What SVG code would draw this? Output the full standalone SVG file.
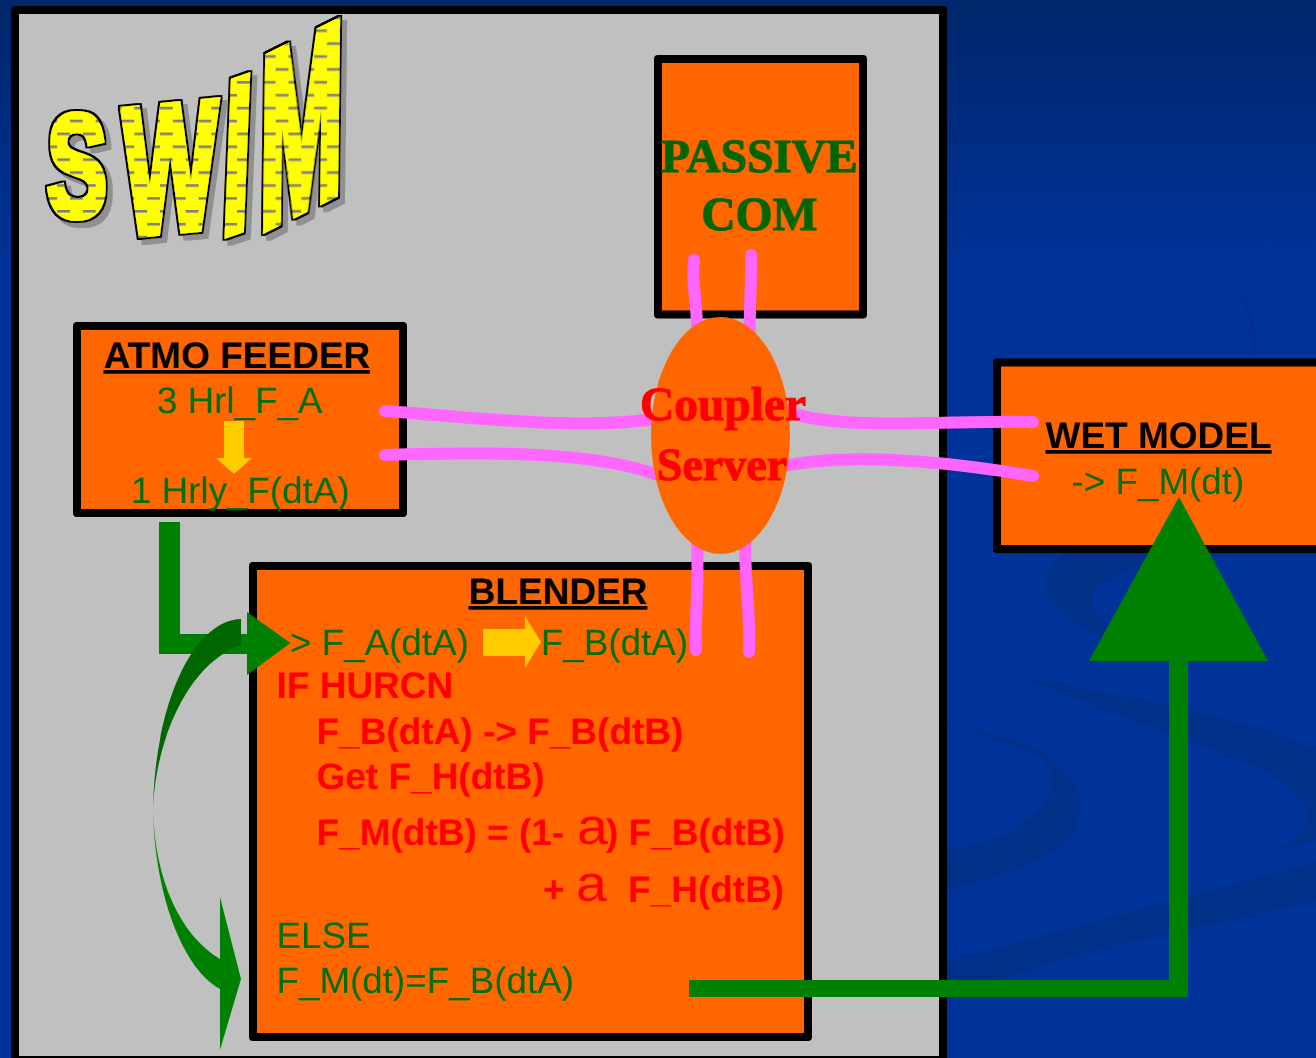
<svg xmlns="http://www.w3.org/2000/svg" width="1316" height="1058" viewBox="0 0 1316 1058">
<style>
text{text-rendering:geometricPrecision}
.box{fill:#ff6600;stroke:#000;stroke-width:8;stroke-linejoin:round}
.t{font-family:"Liberation Sans",Arial,sans-serif;font-size:36.800px;fill:#006f00}
.r{font-family:"Liberation Sans",Arial,sans-serif;font-size:37px;font-weight:bold;fill:#ff0000}
.h{font-family:"Liberation Sans",Arial,sans-serif;font-size:37px;font-weight:bold;fill:#000;text-decoration:underline}
.s{font-family:"Liberation Serif","Times New Roman",serif;font-size:47.500px;font-weight:bold;text-anchor:middle;stroke-width:1}
.pink{fill:none;stroke:#ff66ff;stroke-width:12;stroke-linecap:round}
.alpha{font-family:"Liberation Sans",Arial,sans-serif;font-size:37px;fill:#ff0000}
.w{font-family:"Liberation Sans",Arial,sans-serif;font-size:100px;font-weight:bold;stroke-width:5;stroke-linejoin:miter;vector-effect:non-scaling-stroke}
</style>
<defs>
<linearGradient id="bg" x1="0" y1="0" x2="0" y2="1"><stop offset="0" stop-color="#00266b"/><stop offset="0.25" stop-color="#003399"/><stop offset="1" stop-color="#003399"/></linearGradient>
<pattern id="dash" width="25.7" height="25.8" patternUnits="userSpaceOnUse"><rect width="25.7" height="25.8" fill="#ffff00"/><rect x="0" y="0" width="12.85" height="2.6" fill="#808080"/><rect x="12.85" y="12.9" width="12.85" height="2.6" fill="#808080"/></pattern>
<pattern id="pS" href="#dash" patternTransform="matrix(1.1111 0 0 .68966 -52.22 -148.97) translate(18.6 16.5)"/>
<pattern id="pW" href="#dash" patternTransform="matrix(1 .05556 0 .55556 -123 -137.39) translate(18.6 16.5)"/>
<pattern id="pI" href="#dash" patternTransform="matrix(1.01423 .16359 .04066 .46739 -233.2 -145.91) translate(18.6 16.5)"/>
<pattern id="pM" href="#dash" patternTransform="matrix(1.00619 .20619 .01237 .41237 -263.45 -148.25) translate(18.6 16.5)"/>
<filter id="sh" filterUnits="userSpaceOnUse" x="20" y="0" width="350" height="270">
<feMorphology in="SourceAlpha" operator="dilate" radius="2" result="d"/>
<feFlood flood-color="#000"/><feComposite in2="d" operator="in" result="o"/>
<feMerge result="m"><feMergeNode in="o"/><feMergeNode in="SourceGraphic"/></feMerge>
<feDropShadow in="m" dx="5" dy="5" stdDeviation="0.6" flood-color="#808080" flood-opacity="0.75"/>
</filter>
</defs>
<rect width="1316" height="1058" fill="url(#bg)"/>
<g id="swirls" fill="#003088">
<path d="M1065 553C1050 565 1043 578 1046 587C1050 607 1075 625 1125 650L1140 640C1115 630 1092 618 1091 600C1092 585 1120 572 1150 563L1170 553Z"/>
<path d="M1020 678C1120 695 1230 715 1316 749V840C1300 843 1285 848 1267 855C1290 845 1310 830 1307 813C1300 785 1260 765 1173 735C1120 715 1070 695 1020 678Z"/>
<path d="M947 722C990 735 1040 745 1053 762C1070 775 1080 790 1080 803C1080 820 1075 830 1073 837C1050 855 1000 880 947 889V850C985 845 1020 830 1023 823C1040 810 1055 795 1053 783C1052 772 1045 762 1040 756C1000 740 970 730 947 724Z"/>
<path d="M947 962L1316 862V901L1073 955L1007 978L947 985Z"/>
<path d="M1233 290C1250 298 1259 320 1256 358H1250C1254 330 1248 305 1233 290Z" fill-opacity=".5"/>
</g>
<g id="panel"><rect x="15" y="10" width="928" height="1050" fill="#c0c0c0" stroke="#000" stroke-width="8" stroke-linejoin="round"/></g>
<g id="swim" filter="url(#sh)">
<text class="w" transform="matrix(.9 0 0 1.45 47 216)" fill="url(#pS)" stroke="url(#pS)">S</text>
<text class="w" transform="matrix(1 -.1 0 1.8 123 235)" fill="url(#pW)" stroke="url(#pW)">W</text>
<text class="w" transform="matrix(1 -.35 -.087 2.17 220.500 235)" fill="url(#pI)" stroke="url(#pI)">I</text>
<text class="w" transform="matrix(1 -.5 -.03 2.44 259 230)" fill="url(#pM)" stroke="url(#pM)">M</text>
</g>
<g id="passive-com"><rect class="box" x="658" y="59" width="205" height="255.500"/>
<text class="s" x="759" y="172" fill="#006600" stroke="#006600">PASSIVE</text><text class="s" x="759" y="230" fill="#006600" stroke="#006600">COM</text></g>
<g id="atmo-feeder"><rect class="box" x="77" y="326" width="326" height="187"/>
<text class="h" x="103.500" y="368">ATMO FEEDER</text>
<text class="t" x="156.500" y="413">3 Hrl_F_A</text>
<polygon points="224,421 244,421 244,458 252,458 234,474 216,458 224,458" fill="#ffcc00"/>
<text class="t" x="130.500" y="503">1 Hrly_F(dtA)</text></g>
<g id="blender"><rect class="box" x="253" y="566" width="555" height="471"/>
<text class="h" x="468.500" y="604">BLENDER</text>
<text class="t" x="289.500" y="655">&gt; F_A(dtA)</text>
<polygon points="483,629 525,629 525,616 541,642 525,668 525,656 483,656" fill="#ffcc00"/>
<text class="t" x="540.500" y="655">F_B(dtA)</text>
<text class="r" x="276.500" y="698">IF HURCN</text>
<text class="r" x="316.500" y="744">F_B(dtA) -&gt; F_B(dtB)</text>
<text class="r" x="316.500" y="789">Get F_H(dtB)</text>
<text class="r" x="316.500" y="845">F_M(dtB) = (1-</text>
<text class="alpha" transform="translate(577 844) scale(1.5 1.38)">a</text>
<text class="r" x="606" y="845">) F_B(dtB)</text>
<text class="r" x="543" y="902">+</text>
<text class="alpha" transform="translate(576 900.500) scale(1.5 1.38)">a</text>
<text class="r" x="628" y="902">F_H(dtB)</text>
<text class="t" x="276.500" y="948">ELSE</text>
<text class="t" x="276.500" y="993">F_M(dt)=F_B(dtA)</text></g>
<g id="wet-model"><rect class="box" x="997" y="362.500" width="340" height="186.500"/>
<text class="h" x="1045.500" y="448">WET MODEL</text>
<text class="t" x="1071.500" y="493.500">-&gt; F_M(dt)</text></g>
<g id="connectors">
<path class="pink" d="M694 260C691 285 698 305 697 335"/>
<path class="pink" d="M751 255C752 280 749 305 750 335"/>
<path class="pink" d="M697 540C699 580 695 620 696 650"/>
<path class="pink" d="M745 540C745 585 751 620 749 652"/>
<path class="pink" d="M385 411C450 415 580 432 660 418"/>
<path class="pink" d="M385 455C480 452 600 450 665 478"/>
<path class="pink" d="M785 410C830 432 950 420 1033 422"/>
<path class="pink" d="M785 466C850 452 950 462 1033 476"/>
<path fill="#008000" d="M159 522H180V634H247V612L290.500 643L247 675V654H159Z"/>
<path fill="#006600" d="M241 619C195 620 155 700 153 810C155 745 185 665 241 645Z"/>
<path fill="#008000" d="M153 810C155 900 185 970 220 989V1050L241 979L220 897V959C180 935 155 880 153 810Z"/>
<path fill="#008000" d="M689 980H1169V661H1089L1179 497L1268 661H1188V997H689Z"/>
</g>
<g id="coupler-server"><ellipse cx="720.500" cy="435.500" rx="69.500" ry="118.500" fill="#ff6600"/>
<text class="s" x="723" y="420" fill="#ff0000" stroke="#ff0000">Coupler</text><text class="s" x="722" y="479.500" fill="#ff0000" stroke="#ff0000" style="font-size:46px">Server</text></g>
</svg>
